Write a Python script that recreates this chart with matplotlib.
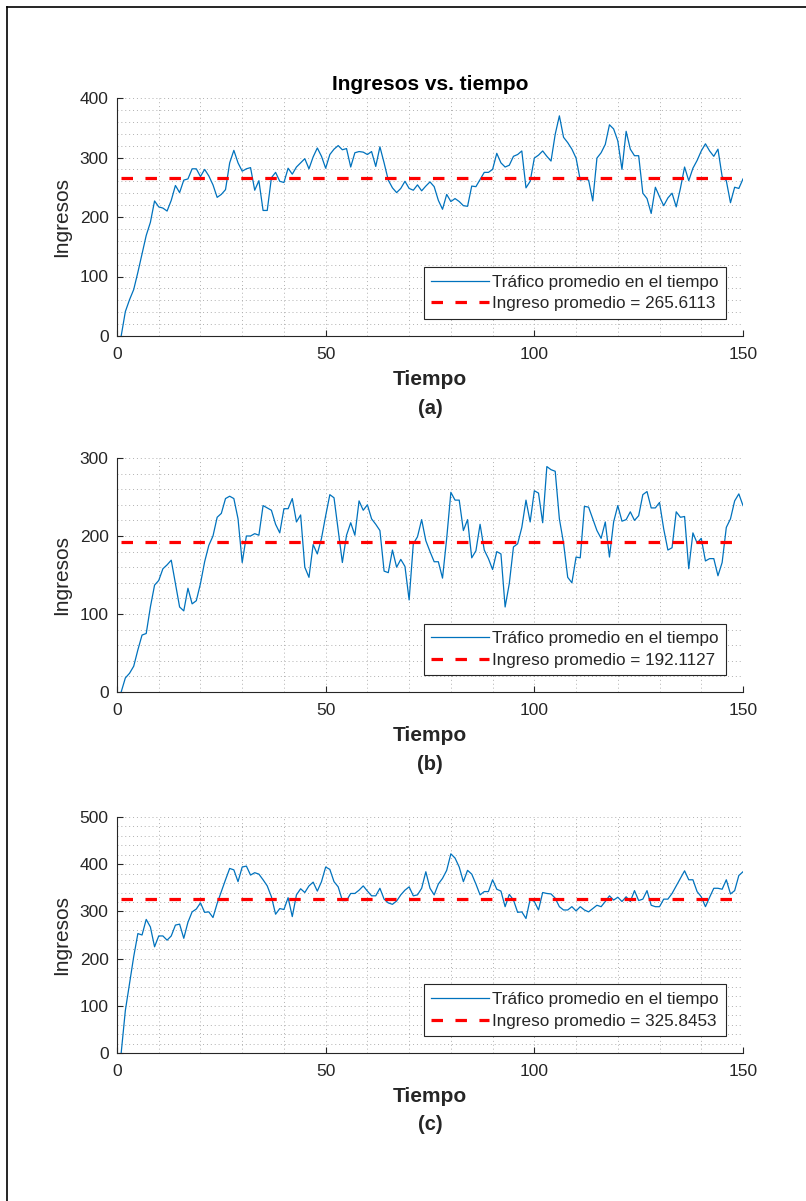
import numpy as np
import matplotlib
matplotlib.use("Agg")
import matplotlib.pyplot as plt
from matplotlib.lines import Line2D
from matplotlib.ticker import MultipleLocator

plt.rcParams['font.family'] = ['Liberation Sans', 'DejaVu Sans']

tiempo = np.arange(1, 151)

ingresos_a = [
    0, 41, 61, 78, 107, 138, 169, 191, 227, 217, 215, 210, 228, 253, 241, 262, 264, 281, 281, 268,
    280, 269, 254, 233, 238, 246, 291, 312, 291, 277, 281, 283, 245, 261, 211, 211, 266, 275, 260, 258,
    282, 272, 284, 291, 298, 281, 301, 316, 302, 282, 305, 314, 320, 313, 315, 284, 308, 310, 309, 305,
    310, 285, 318, 291, 262, 249, 241, 248, 260, 248, 245, 254, 244, 252, 259, 251, 228, 213, 238, 226,
    231, 226, 219, 218, 252, 251, 263, 275, 275, 280, 307, 291, 284, 287, 302, 305, 311, 249, 260, 299,
    304, 311, 302, 294, 339, 370, 334, 325, 314, 299, 262, 264, 262, 227, 299, 308, 322, 355, 348, 328,
    280, 344, 314, 303, 303, 240, 231, 206, 250, 234, 219, 232, 240, 217, 248, 284, 261, 282, 295, 311,
    323, 311, 302, 314, 268, 261, 224, 250, 248, 264]

ingresos_b = [
    0, 18, 24, 33, 54, 73, 75, 109, 137, 143, 158, 163, 169, 139, 109, 104, 133, 113, 117, 139,
    167, 188, 200, 224, 229, 248, 251, 248, 222, 166, 200, 200, 203, 201, 239, 236, 233, 215, 204, 235,
    235, 248, 218, 227, 160, 147, 189, 177, 197, 226, 253, 249, 207, 166, 201, 217, 201, 245, 233, 240,
    222, 215, 207, 155, 153, 182, 160, 170, 161, 118, 190, 199, 221, 194, 180, 167, 167, 146, 197, 256,
    246, 246, 207, 221, 172, 181, 215, 182, 171, 157, 180, 177, 109, 139, 186, 190, 211, 246, 218, 258,
    255, 217, 289, 285, 283, 222, 191, 147, 140, 173, 172, 238, 237, 222, 207, 197, 218, 173, 218, 239,
    219, 221, 231, 220, 226, 253, 257, 236, 236, 243, 209, 182, 185, 231, 224, 225, 158, 204, 191, 197,
    168, 171, 171, 149, 166, 211, 222, 245, 254, 239]

ingresos_c = [
    0, 90, 147, 204, 253, 250, 283, 267, 225, 248, 248, 239, 248, 271, 273, 243, 277, 299, 305, 318,
    298, 299, 287, 317, 342, 367, 391, 388, 363, 394, 396, 377, 382, 379, 367, 354, 331, 294, 306, 304,
    329, 289, 335, 348, 340, 354, 362, 343, 363, 394, 389, 363, 352, 323, 323, 338, 338, 345, 354, 343,
    333, 333, 349, 326, 318, 315, 322, 335, 345, 352, 333, 335, 349, 384, 349, 335, 358, 370, 387, 422,
    413, 394, 363, 387, 379, 358, 335, 342, 342, 367, 347, 343, 310, 336, 324, 298, 299, 285, 326, 321,
    303, 340, 338, 337, 328, 310, 303, 303, 310, 301, 310, 303, 299, 306, 313, 310, 321, 333, 324, 330,
    321, 331, 321, 344, 323, 326, 344, 313, 310, 310, 326, 326, 338, 354, 370, 386, 367, 367, 342, 331,
    310, 330, 349, 349, 347, 367, 337, 344, 376, 384]

promedios = [265.6113, 192.1127, 325.8453]
y_max = [400, 300, 500]
etiquetas = ['(a)', '(b)', '(c)']

W, H = 806, 1201
fig = plt.figure(figsize=(W / 100, H / 100), dpi=100)

# axes boxes in pixels: left, top, right, bottom
cajas = [(117, 98, 743, 336), (117, 458, 743, 692), (117, 817, 743, 1053)]

azul = '#0072BD'
gris = '#262626'

for i, serie in enumerate([ingresos_a, ingresos_b, ingresos_c]):
    l, t, r, b = cajas[i]
    ax = fig.add_axes([l / W, 1 - b / H, (r - l) / W, (b - t) / H])
    ax.plot(tiempo, serie, color=azul, lw=0.9, label='Tráfico promedio en el tiempo')
    ax.plot([tiempo[0], tiempo[-1]], [promedios[i]] * 2, color='#FF0000', lw=2.3,
            linestyle=(0, (3.6, 3.9)), label='Ingreso promedio = %.4f' % promedios[i])

    ax.set_xlim(0, 150)
    ax.set_ylim(0, y_max[i])
    ax.set_xticks([0, 50, 100, 150])
    ax.xaxis.set_minor_locator(MultipleLocator(10))
    ax.yaxis.set_major_locator(MultipleLocator(100))
    ax.yaxis.set_minor_locator(MultipleLocator(20))
    ax.grid(True, which='both', linestyle=(0, (1, 3)), color='#b0b0b0', lw=0.7)
    ax.set_axisbelow(True)
    ax.tick_params(which='major', direction='in', length=4, width=0.8, colors=gris,
                   labelsize=12.5, labelcolor=gris)
    ax.tick_params(axis='x', pad=8)
    ax.tick_params(axis='y', pad=6)
    ax.tick_params(which='minor', length=0)
    for s in ['top', 'right']:
        ax.spines[s].set_visible(False)
    for s in ['left', 'bottom']:
        ax.spines[s].set_color(gris)
        ax.spines[s].set_linewidth(0.8)

    ax.set_ylabel('Ingresos', fontsize=15, color=gris, labelpad=6)
    ax.set_xlabel('Tiempo', fontsize=15, fontweight='bold', color=gris, labelpad=6)
    fig.text(((l + r) / 2) / W, 1 - (b + 72) / H, etiquetas[i], ha='center', va='center',
             fontsize=14.5, fontweight='bold', color=gris)

    leg = ax.legend(loc='lower right', bbox_to_anchor=(0.973, 0.071), borderaxespad=0,
                    fontsize=12.3, fancybox=False, framealpha=1, edgecolor=gris,
                    handlelength=3.4, handletextpad=0.15, borderpad=0.45, labelspacing=0.38)
    leg.get_frame().set_linewidth(0.8)
    for txt in leg.get_texts():
        txt.set_color(gris)

    if i == 0:
        ax.set_title('Ingresos vs. tiempo', fontsize=15, fontweight='bold', color='black', pad=6)

# frame around the figure
fig.add_artist(Line2D([7 / W, 7 / W], [0, 1 - 7 / H], color='black', lw=1.2))
fig.add_artist(Line2D([7 / W, 1], [1 - 7 / H, 1 - 7 / H], color='black', lw=1.2))

fig.savefig('out.png', dpi=100, facecolor='white')
